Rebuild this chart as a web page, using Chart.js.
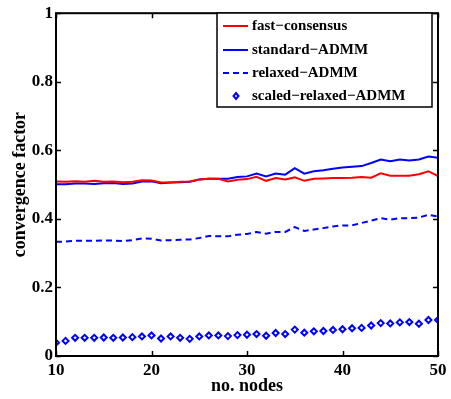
<!DOCTYPE html>
<html>
<head>
<meta charset="utf-8">
<script src="https://cdn.jsdelivr.net/npm/chart.js@4.4.1/dist/chart.umd.min.js"></script>
<style>
  html, body { margin: 0; padding: 0; background: #fff; }
  #wrap { width: 451px; height: 399px; position: relative; }
</style>
</head>
<body>
<div id="wrap"><canvas id="c" width="451" height="399"></canvas></div>
<script>
// Convergence factor versus network size for four consensus schemes
const nodes = [10,11,12,13,14,15,16,17,18,19,20,21,22,23,24,25,26,27,28,29,30,
               31,32,33,34,35,36,37,38,39,40,41,42,43,44,45,46,47,48,49,50];

const fastConsensus = [0.509,0.508,0.510,0.508,0.511,0.508,0.509,0.507,0.508,0.513,0.512,
                       0.506,0.506,0.508,0.509,0.515,0.517,0.517,0.509,0.514,0.516,
                       0.523,0.511,0.519,0.515,0.521,0.511,0.517,0.518,0.519,0.519,
                       0.520,0.522,0.520,0.533,0.526,0.526,0.526,0.530,0.539,0.525];

const standardADMM = [0.501,0.501,0.503,0.503,0.502,0.504,0.505,0.502,0.503,0.509,0.510,
                      0.504,0.506,0.507,0.508,0.515,0.517,0.517,0.517,0.522,0.524,
                      0.532,0.524,0.532,0.529,0.548,0.532,0.539,0.542,0.546,0.550,
                      0.552,0.554,0.563,0.573,0.568,0.573,0.570,0.573,0.582,0.578];

const relaxedADMM = [0.333,0.334,0.336,0.336,0.336,0.337,0.337,0.335,0.338,0.343,0.342,
                     0.337,0.338,0.339,0.340,0.344,0.350,0.349,0.349,0.354,0.356,
                     0.362,0.357,0.362,0.362,0.376,0.365,0.369,0.373,0.378,0.381,
                     0.381,0.388,0.395,0.402,0.398,0.402,0.402,0.404,0.412,0.407];

const scaledRelaxedADMM = [0.039,0.044,0.053,0.053,0.053,0.054,0.053,0.054,0.055,0.057,0.060,
                           0.051,0.057,0.053,0.050,0.057,0.060,0.060,0.058,0.061,0.062,
                           0.064,0.059,0.067,0.064,0.077,0.068,0.072,0.073,0.076,0.078,
                           0.081,0.082,0.089,0.096,0.095,0.098,0.099,0.094,0.105,0.105];

const xTicks = [10, 20, 30, 40, 50];
const yTicks = [0, 0.2, 0.4, 0.6, 0.8, 1];
const yTickLabels = ['0', '0.2', '0.4', '0.6', '0.8', '1'];

const RED = '#ff0000';
const BLUE = '#0000ff';
const FONT = "'Liberation Serif', 'Times New Roman', serif";

const pts = ys => nodes.map((x, i) => ({ x: x, y: ys[i] }));

// Box frame with inward ticks on all four sides
const framePlugin = {
  id: 'frame',
  afterDatasetsDraw(chart) {
    const { ctx, chartArea: a, scales } = chart;
    const L = 5;
    ctx.save();
    ctx.strokeStyle = '#000';
    ctx.lineWidth = 1.5;
    ctx.beginPath();
    xTicks.forEach(v => {
      const px = Math.round(scales.x.getPixelForValue(v)) + 0.5;
      ctx.moveTo(px, a.bottom); ctx.lineTo(px, a.bottom - L);
      ctx.moveTo(px, a.top); ctx.lineTo(px, a.top + L);
    });
    yTicks.forEach(v => {
      const py = Math.round(scales.y.getPixelForValue(v)) + 0.5;
      ctx.moveTo(a.left, py); ctx.lineTo(a.left + L, py);
      ctx.moveTo(a.right, py); ctx.lineTo(a.right - L, py);
    });
    ctx.stroke();
    ctx.lineWidth = 2;
    ctx.strokeRect(a.left, a.top, a.right - a.left, a.bottom - a.top);
    ctx.restore();
  }
};

// Legend box drawn in the upper right corner of the plot
const legendBoxPlugin = {
  id: 'legendBox',
  afterDraw(chart) {
    const { ctx } = chart;
    const box = { x: 217, y: 13, w: 215, h: 94 };
    ctx.save();
    ctx.fillStyle = '#fff';
    ctx.fillRect(box.x, box.y, box.w, box.h);
    ctx.strokeStyle = '#000';
    ctx.lineWidth = 1.5;
    ctx.strokeRect(box.x, box.y, box.w, box.h);
    const rows = [26, 50, 73, 96];
    ctx.font = "bold 15px " + FONT;
    ctx.textBaseline = 'middle';
    chart.data.datasets.forEach((ds, i) => {
      const y = rows[i];
      ctx.strokeStyle = ds.borderColor;
      if (ds.showLine === false) {
        ctx.beginPath();
        const cx = 236, rx = 2.5, ry = 3;
        ctx.moveTo(cx, y - ry); ctx.lineTo(cx + rx, y); ctx.lineTo(cx, y + ry); ctx.lineTo(cx - rx, y);
        ctx.closePath();
        ctx.fillStyle = '#fff';
        ctx.fill();
        ctx.lineWidth = 2;
        ctx.stroke();
      } else {
        ctx.lineWidth = 2;
        ctx.setLineDash(ds.borderDash || []);
        ctx.beginPath();
        ctx.moveTo(223, y); ctx.lineTo(248, y);
        ctx.stroke();
        ctx.setLineDash([]);
      }
      ctx.fillStyle = '#000';
      ctx.fillText(ds.label, 252, y);
    });
    ctx.restore();
  }
};

new Chart(document.getElementById('c'), {
  type: 'line',
  data: {
    datasets: [
      { label: 'fast\u2212consensus', data: pts(fastConsensus), borderColor: RED,
        borderWidth: 2, pointRadius: 0, tension: 0 },
      { label: 'standard\u2212ADMM', data: pts(standardADMM), borderColor: BLUE,
        borderWidth: 2, pointRadius: 0, tension: 0 },
      { label: 'relaxed\u2212ADMM', data: pts(relaxedADMM), borderColor: BLUE,
        borderWidth: 2, borderDash: [6, 4], pointRadius: 0, tension: 0 },
      { label: 'scaled\u2212relaxed\u2212ADMM', data: pts(scaledRelaxedADMM), borderColor: BLUE,
        showLine: false, pointStyle: 'rectRot', pointRadius: 3, pointBorderWidth: 2,
        pointBackgroundColor: '#fff', backgroundColor: '#fff' }
    ]
  },
  options: {
    responsive: false,
    animation: false,
    devicePixelRatio: 1,
    layout: { padding: { top: 7, right: 13, left: 0, bottom: 0 } },
    plugins: { legend: { display: false }, tooltip: { enabled: false } },
    scales: {
      x: {
        type: 'linear', min: 10, max: 50,
        afterBuildTicks: s => { s.ticks = xTicks.map(v => ({ value: v })); },
        afterFit: s => { s.height = 43; },
        grid: { display: false, drawTicks: false },
        border: { display: false },
        ticks: { color: '#000', padding: 4, font: { family: FONT, size: 17, weight: 'bold' },
                 maxRotation: 0, callback: v => String(v) },
        title: { display: true, text: 'no. nodes', color: '#000', padding: { top: 0, bottom: 2 },
                 font: { family: FONT, size: 18, weight: 'bold' } }
      },
      y: {
        type: 'linear', min: 0, max: 1,
        afterBuildTicks: s => { s.ticks = yTicks.map(v => ({ value: v })); },
        afterFit: s => { s.width = 56; },
        grid: { display: false, drawTicks: false },
        border: { display: false },
        ticks: { color: '#000', padding: 3, font: { family: FONT, size: 17, weight: 'bold' },
                 callback: v => yTickLabels[yTicks.indexOf(v)] },
        title: { display: true, text: 'convergence factor', color: '#000', padding: { top: 10, bottom: 0 },
                 font: { family: FONT, size: 18, weight: 'bold' } }
      }
    }
  },
  plugins: [framePlugin, legendBoxPlugin]
});
</script>
</body>
</html>
